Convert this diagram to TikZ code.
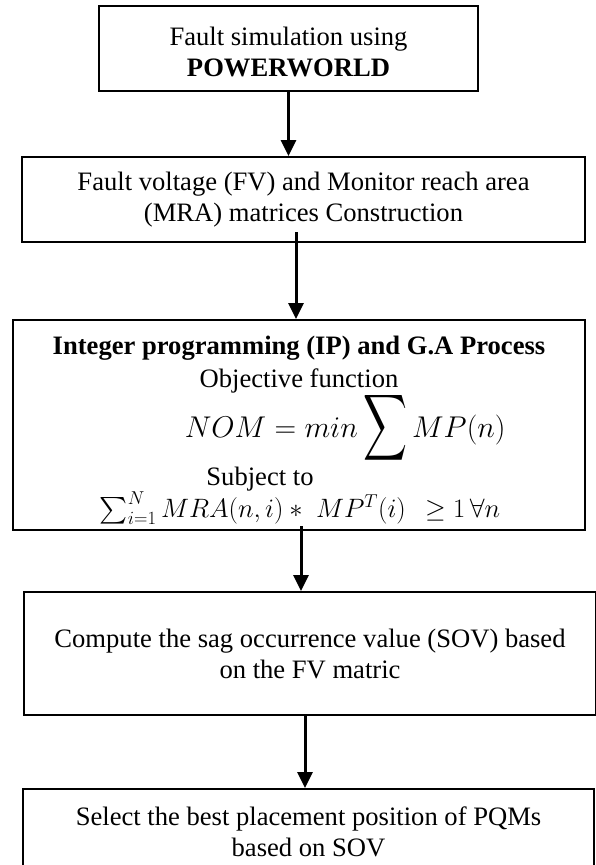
\RequirePackage{fix-cm}
\documentclass[tikz,border=0pt]{standalone}
\usepackage{amsmath,amssymb}
\usepackage{graphicx}
\usepackage{fontspec}
\setmainfont{Liberation Serif}
\usetikzlibrary{arrows.meta}

\begin{document}
\begin{tikzpicture}[x=1pt,y=-1pt,
   box/.style={draw=black,line width=2pt,inner sep=0pt,align=center,font=\fontsize{26.6}{31}\selectfont},
   txt/.style={inner sep=0pt,anchor=base,font=\fontsize{26.6}{32}\selectfont},
   mth/.style={inner sep=0pt,font=\fontsize{30}{36}\selectfont},
   flow/.style={line width=3pt,-{Triangle[width=15pt,length=16pt]}}]
   \fill[white] (0,0) rectangle (596,865);
   \useasboundingbox (0,0) rectangle (596,865);
   \clip (0,0) rectangle (596,865);
   % boxes
   \node[box,minimum width=379pt,minimum height=85pt] (sim) at (288.5,48.5) {\\[-6pt]Fault simulation using\\\textbf{POWERWORLD}};
   \node[box,minimum width=563pt,minimum height=85pt] (fvmra) at (303.5,199.5) {Fault voltage (FV) and Monitor reach area\\(MRA) matrices Construction};
   \node[box,minimum width=572pt,minimum height=210pt] (ipga) at (299,425) {};
   \node[box,minimum width=572pt,minimum height=123pt] (sov) at (310,653.5) {Compute the sag occurrence value (SOV) based\\on the FV matric};
   \node[box,minimum width=571pt,minimum height=86pt] (place) at (308.5,832) {Select the best placement position of PQMs\\based on SOV};
   % lines inside the IP box
   \node[txt] (iphead) at (299,354) {\textbf{Integer programming (IP) and G.A Process}};
   \node[txt] (objlabel) at (299,387) {Objective function};
   \node[mth,anchor=base east] (objlhs) at (358,437) {$NOM = min$};
   \node[mth] (objsum) at (385,428) {\resizebox*{44pt}{74pt}{$\displaystyle\sum$}};
   \node[mth,anchor=base west] (objrhs) at (412,437) {$MP(n)$};
   \node[txt] (subjlabel) at (260,485) {Subject to};
   \node[txt] (constr) at (300,517) {$\sum_{i=1}^{N} MRA(n,i) *\; MP^{T}(i)\;\, \geq 1 \,\forall n$};
   % arrows
   \coordinate (s2) at (296,232);
   \coordinate (s3) at (301,526);
   \coordinate (s4) at (305,715);
   \draw[flow] (sim.south) -- (sim.south |- fvmra.north);
   \draw[flow] (s2) -- (s2 |- ipga.north);
   \draw[flow] (s3) -- (s3 |- sov.north);
   \draw[flow] (s4) -- (s4 |- place.north);
\end{tikzpicture}
\end{document}
